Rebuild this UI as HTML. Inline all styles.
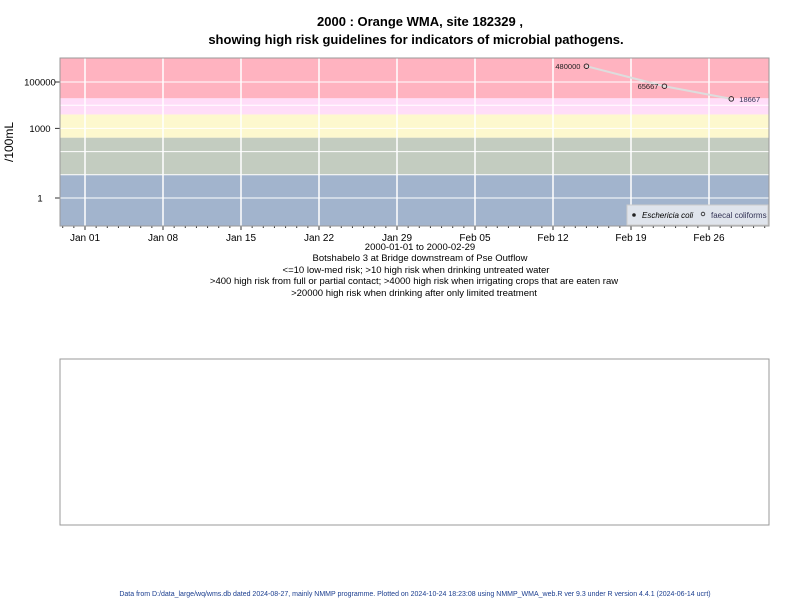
<!DOCTYPE html>
<html><head><meta charset="utf-8"><style>
body{margin:0;background:#fff;font-family:"Liberation Sans",sans-serif}
svg{display:block}
</style></head><body>
<svg width="800" height="600" font-family="Liberation Sans, sans-serif">
<text x="420" y="26" text-anchor="middle" font-size="13" font-weight="bold">2000 : Orange WMA, site 182329 ,</text>
<text x="416" y="44" text-anchor="middle" font-size="13" font-weight="bold">showing high risk guidelines for indicators of microbial pathogens.</text>
<g id="bands"></g><g id="grid"></g><g id="series"></g><g id="axes"></g>
<rect x="60" y="58" width="709" height="168" fill="none" stroke="#999"/>
<text transform="translate(13,142) rotate(-90)" text-anchor="middle" font-size="12">/100mL</text>
<g font-size="9.5" text-anchor="middle">
<text x="420" y="250">2000-01-01 to 2000-02-29</text>
<text x="420" y="261">Botshabelo 3 at Bridge downstream of Pse Outflow</text>
<text x="416" y="273">&lt;=10 low-med risk; &gt;10 high risk when drinking untreated water</text>
<text x="414" y="284">&gt;400 high risk from full or partial contact; &gt;4000 high risk when irrigating crops that are eaten raw</text>
<text x="414" y="296">&gt;20000 high risk when drinking after only limited treatment</text>
</g>
<g>
<rect x="627" y="205" width="141" height="20" fill="#dfe4ec" stroke="#ccc"/>
<circle cx="634" cy="215" r="1.8" fill="#222"/>
<text x="642" y="218" font-size="8" font-style="italic">Eschericia coli</text>
<circle cx="703" cy="214" r="1.8" fill="none" stroke="#222" stroke-width="0.8"/>
<text x="711" y="218" font-size="8" fill="#335">faecal coliforms</text>
</g>
<rect x="60" y="359" width="709" height="166" fill="none" stroke="#999"/>
<text x="415" y="596" text-anchor="middle" font-size="7" fill="#1a3d8f">Data from D:/data_large/wq/wms.db dated 2024-08-27, mainly NMMP programme. Plotted on 2024-10-24 18:23:08 using NMMP_WMA_web.R ver 9.3 under R version 4.4.1 (2024-06-14 ucrt)</text>
</svg>
<script>
const fcDays=[45,52,58];
const fcValues=[480000,65667,18667];
const fcLabels=["480000","65667","18667"];
const yTicks=[1,1000,100000];
const xTickLabels=["Jan 01","Jan 08","Jan 15","Jan 22","Jan 29","Feb 05","Feb 12","Feb 19","Feb 26"];
const bandLimits=[10,400,4000,20000];
const NS="http://www.w3.org/2000/svg";
const X0=60,X1=769,Y0=58,Y1=226;
const xs=d=>85+d*(624/56);
const ys=v=>198-Math.log10(v)*23.2;
function mk(t,a,p){const e=document.createElementNS(NS,t);for(const k in a)e.setAttribute(k,a[k]);p.appendChild(e);return e;}
const bands=document.getElementById('bands'),grid=document.getElementById('grid'),ser=document.getElementById('series'),ax=document.getElementById('axes');
const cols=["#a2b4cd","#c3ccc0","#fdf8ce","#ffddf8","#ffb3c0"];
const edges=[Y1,...bandLimits.map(ys),Y0];
for(let i=0;i<5;i++){const r=mk('rect',{x:X0,y:edges[i+1],width:X1-X0,height:edges[i]-edges[i+1],fill:cols[i]},bands);

}
for(let e=0;e<=5;e++){const y=ys(Math.pow(10,e));const l=mk('line',{x1:X0,x2:X1,y1:y,y2:y,stroke:'#fff','stroke-width':1},grid);

}
xTickLabels.forEach((lab,i)=>{const x=xs(i*7);const l=mk('line',{x1:x,x2:x,y1:Y0,y2:Y1,stroke:'#fff','stroke-width':1.5},grid);


mk('line',{x1:x,x2:x,y1:Y1,y2:Y1+4,stroke:'#333'},ax);
const t=mk('text',{x:x,y:Y1+15,'text-anchor':'middle','font-size':10},ax);t.textContent=lab;

});
for(let d=-2;d<=61;d++){if(d%7===0)continue;const x=xs(d);mk('line',{x1:x,x2:x,y1:Y1,y2:Y1+2,stroke:'#333'},ax);}
yTicks.forEach(v=>{const y=ys(v);mk('line',{x1:X0-5,x2:X0,y1:y,y2:y,stroke:'#333'},ax);
const t=mk('text',{x:40,y:y+3.5,'text-anchor':'middle','font-size':9.5},ax);t.textContent=String(v);

});
const pts=fcDays.map((d,i)=>xs(d)+','+ys(fcValues[i])).join(' ');
const pl=mk('polyline',{points:pts,fill:'none',stroke:'#ddd','stroke-width':2},ser);


fcDays.forEach((d,i)=>{const x=xs(d),y=ys(fcValues[i]);
const c=mk('circle',{cx:x,cy:y,r:2.3,fill:'none',stroke:'#222','stroke-width':0.9},ser);


const last=i===fcDays.length-1;
const t=mk('text',{x:last?x+8:x-6,y:y+3,'text-anchor':last?'start':'end','font-size':7.5,fill:last?'#335':'#222'},ser);t.textContent=fcLabels[i];

});
</script>
</body></html>
